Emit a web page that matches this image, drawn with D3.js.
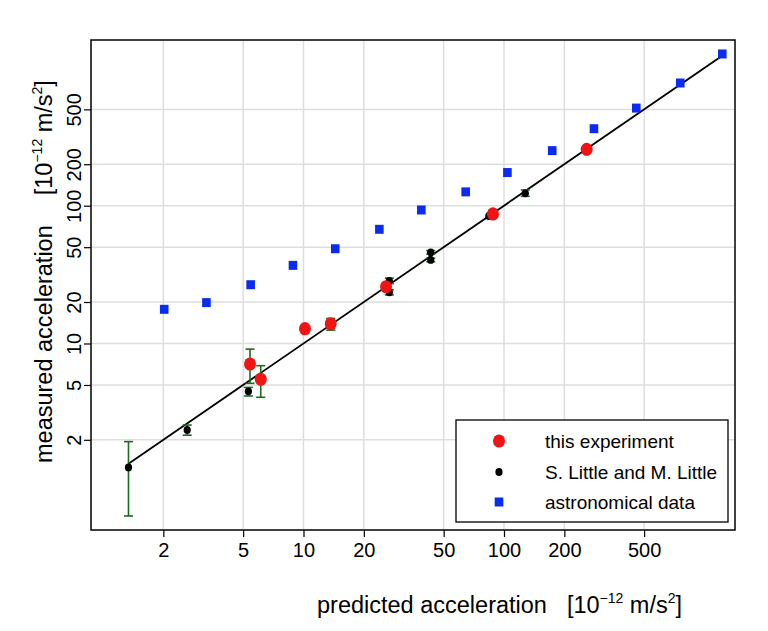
<!DOCTYPE html>
<html><head><meta charset="utf-8">
<script src="https://cdn.jsdelivr.net/npm/d3@7/dist/d3.min.js"></script>
<style>body{margin:0;background:#fff}svg{display:block}text{font-family:"Liberation Sans",Arial,sans-serif;fill:#000}</style>
</head><body>
<svg id="c" width="768" height="631"></svg>
<script>
// ---- data ----
const tickValues = [2, 5, 10, 20, 50, 100, 200, 500];
const tickLabels = ["2", "5", "10", "20", "50", "100", "200", "500"];

const astroX = [2.02, 3.28, 5.45, 8.86, 14.4, 23.9, 38.7, 64.4, 104, 174, 281, 457, 757, 1227];
const astroY = [17.7, 19.8, 26.7, 36.9, 48.7, 67.4, 93.1, 126, 174, 251, 362, 511, 777, 1262];

const expX  = [5.41, 6.12, 10.17, 13.67, 25.8, 88.1, 258.5];
const expY  = [7.1, 5.5, 12.8, 13.9, 25.8, 87.1, 256.6];
const expLo = [5.14, 4.07, null, 12.5, null, null, null];
const expHi = [9.1, 6.9, null, 15.2, null, null, null];

const littleX  = [1.34, 2.63, 5.31, 26.8, 26.8, 43.1, 43.1, 84, 127.7];
const littleY  = [1.26, 2.36, 4.5, 28.5, 23.5, 45.9, 40.4, 84.2, 123];
const littleLo = [0.56, 2.16, 4.16, 27.2, 22.5, 44.6, 39.2, null, 117];
const littleHi = [1.94, 2.56, 4.8, 29.8, 24.5, 47.2, 41.6, null, 130];

const fitX = [1.34, 1200];
const fitY = [1.34, 1200];

const legendLabels = ["this experiment", "S. Little and M. Little", "astronomical data"];

// ---- layout ----
const L = 91, R = 735, T = 40, B = 530;
const svg = d3.select("#c");
const x = d3.scaleLog().domain([0.8713, 1419.5]).range([L, R]);
const y = d3.scaleLog().domain([0.4431, 1594]).range([B, T]);

const RED = "#f01414", BLUE = "#0a2cf0", GREEN = "#1e6b1e";

// grid
const g = svg.append("g");
g.selectAll(".gx").data(tickValues).enter().append("line")
  .attr("x1", d => x(d)).attr("x2", d => x(d)).attr("y1", T).attr("y2", B)
  .attr("stroke", "#dedede").attr("stroke-width", 1.5);
g.selectAll(".gy").data(tickValues).enter().append("line")
  .attr("y1", d => y(d)).attr("y2", d => y(d)).attr("x1", L).attr("x2", R)
  .attr("stroke", "#dedede").attr("stroke-width", 1.5);

// axes
const xAxis = d3.axisBottom(x).tickValues(tickValues).tickFormat((d, i) => tickLabels[i]).tickSizeOuter(0).tickSize(7).tickPadding(6);
const ax = svg.append("g").attr("transform", `translate(0,${B})`).call(xAxis);
ax.select(".domain").remove();
ax.selectAll("line").attr("stroke", "#000").attr("stroke-width", 1.2);
ax.selectAll("text").attr("font-size", 20).attr("font-family", "Liberation Sans, Arial, sans-serif").attr("fill", "#000");

const yAxis = d3.axisLeft(y).tickValues(tickValues).tickFormat((d, i) => tickLabels[i]).tickSizeOuter(0).tickSize(7);
const ay = svg.append("g").attr("transform", `translate(${L},0)`).call(yAxis);
ay.select(".domain").remove();
ay.selectAll("line").attr("stroke", "#000").attr("stroke-width", 1.2);
ay.selectAll("text").attr("font-size", 20).attr("font-family", "Liberation Sans, Arial, sans-serif").attr("fill", "#000")
  .attr("text-anchor", "middle").attr("x", null).attr("dy", null)
  .attr("transform", "translate(-10,0) rotate(-90)");

// fit line
const line = d3.line().x(d => x(d[0])).y(d => y(d[1]));
svg.append("path").datum(fitX.map((v, i) => [v, fitY[i]]))
  .attr("d", line).attr("stroke", "#000").attr("stroke-width", 1.8).attr("fill", "none");

// error bars
function errBars(xs, lo, hi, cap) {
  const d = xs.map((v, i) => ({x: v, lo: lo[i], hi: hi[i]})).filter(e => e.lo != null);
  const eg = svg.append("g").attr("stroke", GREEN).attr("stroke-width", 1.6).attr("fill", "none");
  d.forEach(e => {
    eg.append("line").attr("x1", x(e.x)).attr("x2", x(e.x)).attr("y1", y(e.lo)).attr("y2", y(e.hi));
    eg.append("line").attr("x1", x(e.x) - cap).attr("x2", x(e.x) + cap).attr("y1", y(e.lo)).attr("y2", y(e.lo));
    eg.append("line").attr("x1", x(e.x) - cap).attr("x2", x(e.x) + cap).attr("y1", y(e.hi)).attr("y2", y(e.hi));
  });
}
errBars(littleX, littleLo, littleHi, 4.5);

// little points
svg.append("g").selectAll("ellipse").data(littleX).enter().append("ellipse")
  .attr("cx", d => x(d)).attr("cy", (d, i) => y(littleY[i])).attr("rx", 3.6).attr("ry", 3.9).attr("fill", "#000");

errBars(expX, expLo, expHi, 4.5);

// astro squares
svg.append("g").selectAll("rect").data(astroX).enter().append("rect")
  .attr("x", d => x(d) - 4.3).attr("y", (d, i) => y(astroY[i]) - 4.5).attr("width", 8.6).attr("height", 9).attr("fill", BLUE);

// exp circles
svg.append("g").selectAll("ellipse").data(expX).enter().append("ellipse")
  .attr("cx", d => x(d)).attr("cy", (d, i) => y(expY[i])).attr("rx", 6).attr("ry", 6.6).attr("fill", RED);

// frame
svg.append("rect").attr("x", L).attr("y", T).attr("width", R - L).attr("height", B - T)
  .attr("fill", "none").attr("stroke", "#000").attr("stroke-width", 1.5);

// legend
const lg = svg.append("g");
lg.append("rect").attr("x", 456).attr("y", 420).attr("width", 272).attr("height", 102)
  .attr("fill", "#fff").attr("stroke", "#000").attr("stroke-width", 1.3);
const rowY = [441, 472, 502];
lg.append("ellipse").attr("cx", 499).attr("cy", rowY[0]).attr("rx", 6).attr("ry", 6.6).attr("fill", RED);
lg.append("ellipse").attr("cx", 499).attr("cy", rowY[1]).attr("rx", 3.6).attr("ry", 3.9).attr("fill", "#000");
lg.append("rect").attr("x", 499 - 4.3).attr("y", rowY[2] - 4.5).attr("width", 8.6).attr("height", 9).attr("fill", BLUE);
lg.selectAll("text").data(legendLabels).enter().append("text")
  .attr("x", 545).attr("y", (d, i) => rowY[i] + 7).attr("font-size", 19).text(d => d);

// axis titles
function title(sel, main, gap) {
  sel.append("tspan").text(main);
  sel.append("tspan").attr("dx", gap).text("[10");
  sel.append("tspan").attr("font-size", 14).attr("dy", -10).text("\u221212");
  sel.append("tspan").attr("dy", 10).text(" m/s");
  sel.append("tspan").attr("font-size", 14).attr("dy", -10).text("2");
  sel.append("tspan").attr("dy", 10).text("]");
}
const xt = svg.append("text").attr("x", 317).attr("y", 613).attr("font-size", 23.5);
title(xt, "predicted acceleration", 20);
const yt = svg.append("text").attr("transform", "translate(52,463) rotate(-90)").attr("font-size", 23.5);
title(yt, "measured acceleration", 30);
</script>
</body></html>
